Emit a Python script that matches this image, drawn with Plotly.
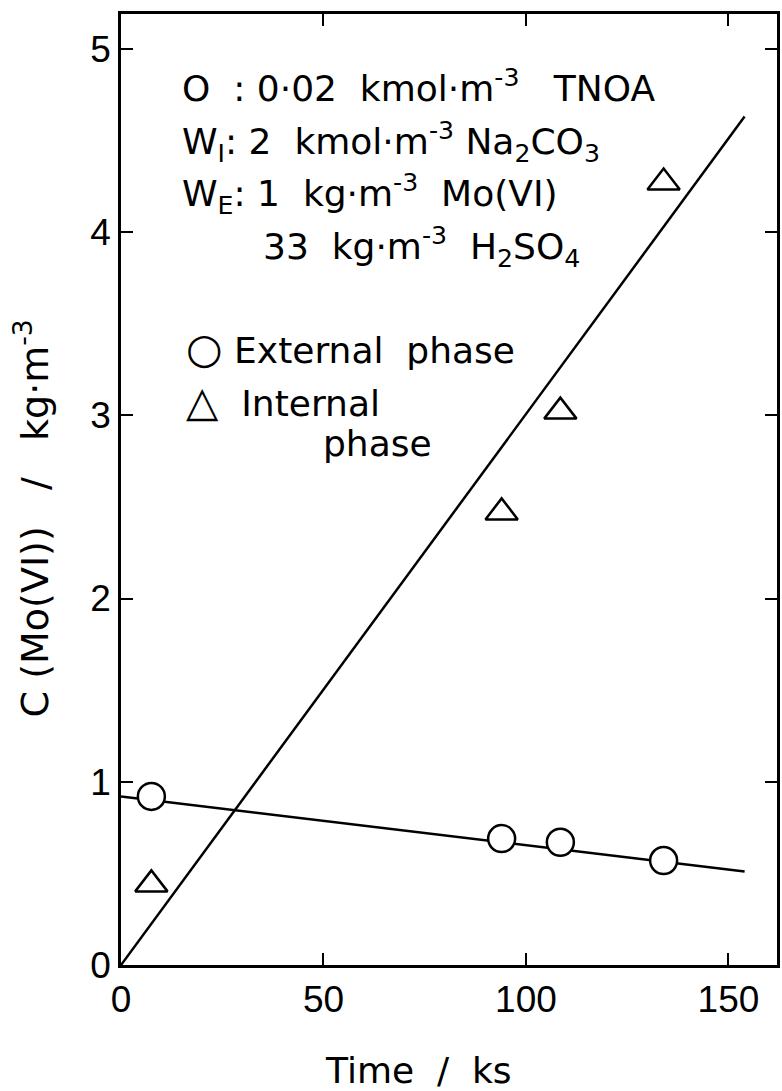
import plotly.graph_objects as go

# Measured Mo(VI) concentrations
time_ext = [7.5, 94, 108.5, 134]
conc_ext = [0.92, 0.69, 0.67, 0.57]

time_int = [7.5, 94, 108.5, 134]
conc_int = [0.44, 2.47, 3.02, 4.27]

# Fitted straight lines (end points)
fit_time = [0, 154]
fit_ext = [0.92, 0.51]
fit_int = [0, 4.63]

x_ticks = [0, 50, 100, 150]
y_ticks = [0, 1, 2, 3, 4, 5]

TICK_FONT = "Liberation Sans"
TEXT_FONT = "DejaVu Sans"
INK = "black"

fig = go.Figure()

fig.add_trace(go.Scatter(x=fit_time, y=fit_ext, mode="lines",
                         line=dict(color=INK, width=2.5), showlegend=False))
fig.add_trace(go.Scatter(x=fit_time, y=fit_int, mode="lines",
                         line=dict(color=INK, width=2.5), showlegend=False))
fig.add_trace(go.Scatter(x=time_ext, y=conc_ext, mode="markers",
                         marker=dict(symbol="circle", size=27, color="white",
                                     line=dict(color=INK, width=2.5)),
                         showlegend=False))
fig.add_trace(go.Scatter(x=time_int, y=conc_int, mode="markers",
                         marker=dict(symbol="triangle-up-open", size=28, color=INK,
                                     line=dict(color=INK, width=2.5)),
                         showlegend=False))

L, R, T, B = 121, 2, 14, 126
W, H = 782, 1091
pw, ph = W - L - R, H - T - B


def px(x):
    return (x - L) / pw


def py(y):
    return (H - B - y) / ph


big = '<span style="font-size:42px">{}</span>'

notes = [
    ("O  : 0·02  kmol·m<sup>-3</sup>   TNOA", 180, 86, 36),
    ("W<sub>I</sub>: 2  kmol·m<sup>-3</sup> Na<sub>2</sub>CO<sub>3</sub>", 180, 142, 36),
    ("W<sub>E</sub>: 1  kg·m<sup>-3</sup>  Mo(VI)", 180, 194, 36),
    ("33  kg·m<sup>-3</sup>  H<sub>2</sub>SO<sub>4</sub>", 262, 247, 36),
    (big.format("○") + " External  phase", 184, 348, 36),
    (big.format("△") + "  Internal", 184, 401, 36),
    ("phase", 322, 443, 36),
]
for txt, x0, y0, sz in notes:
    fig.add_annotation(text=txt, xref="paper", yref="paper", x=px(x0), y=py(y0),
                       xanchor="left", yanchor="middle", showarrow=False,
                       font=dict(family=TEXT_FONT, size=sz, color=INK))

fig.add_annotation(text="Time  /  ks", xref="paper", yref="paper",
                   x=px(420), y=py(1070), xanchor="center", yanchor="middle",
                   showarrow=False, font=dict(family=TEXT_FONT, size=36, color=INK))
fig.add_annotation(text="C (Mo(VI))   /   kg·m<sup>-3</sup>", xref="paper", yref="paper",
                   x=px(32), y=py(518), xanchor="center", yanchor="middle",
                   textangle=-90, showarrow=False,
                   font=dict(family=TEXT_FONT, size=38, color=INK))

axis_common = dict(showgrid=False, zeroline=False, showline=True, linecolor=INK,
                   linewidth=2.5, mirror="allticks", ticks="inside", ticklen=12,
                   tickwidth=2, tickcolor=INK,
                   tickfont=dict(family=TICK_FONT, size=37, color=INK))

fig.update_xaxes(range=[0, 162], tickvals=x_ticks, **axis_common)
fig.update_yaxes(range=[0, 5.19], tickvals=y_ticks, **axis_common)

fig.update_layout(width=W, height=H, margin=dict(l=L, r=R, t=T, b=B),
                  paper_bgcolor="white", plot_bgcolor="white", showlegend=False)

fig.write_html("out.html")
